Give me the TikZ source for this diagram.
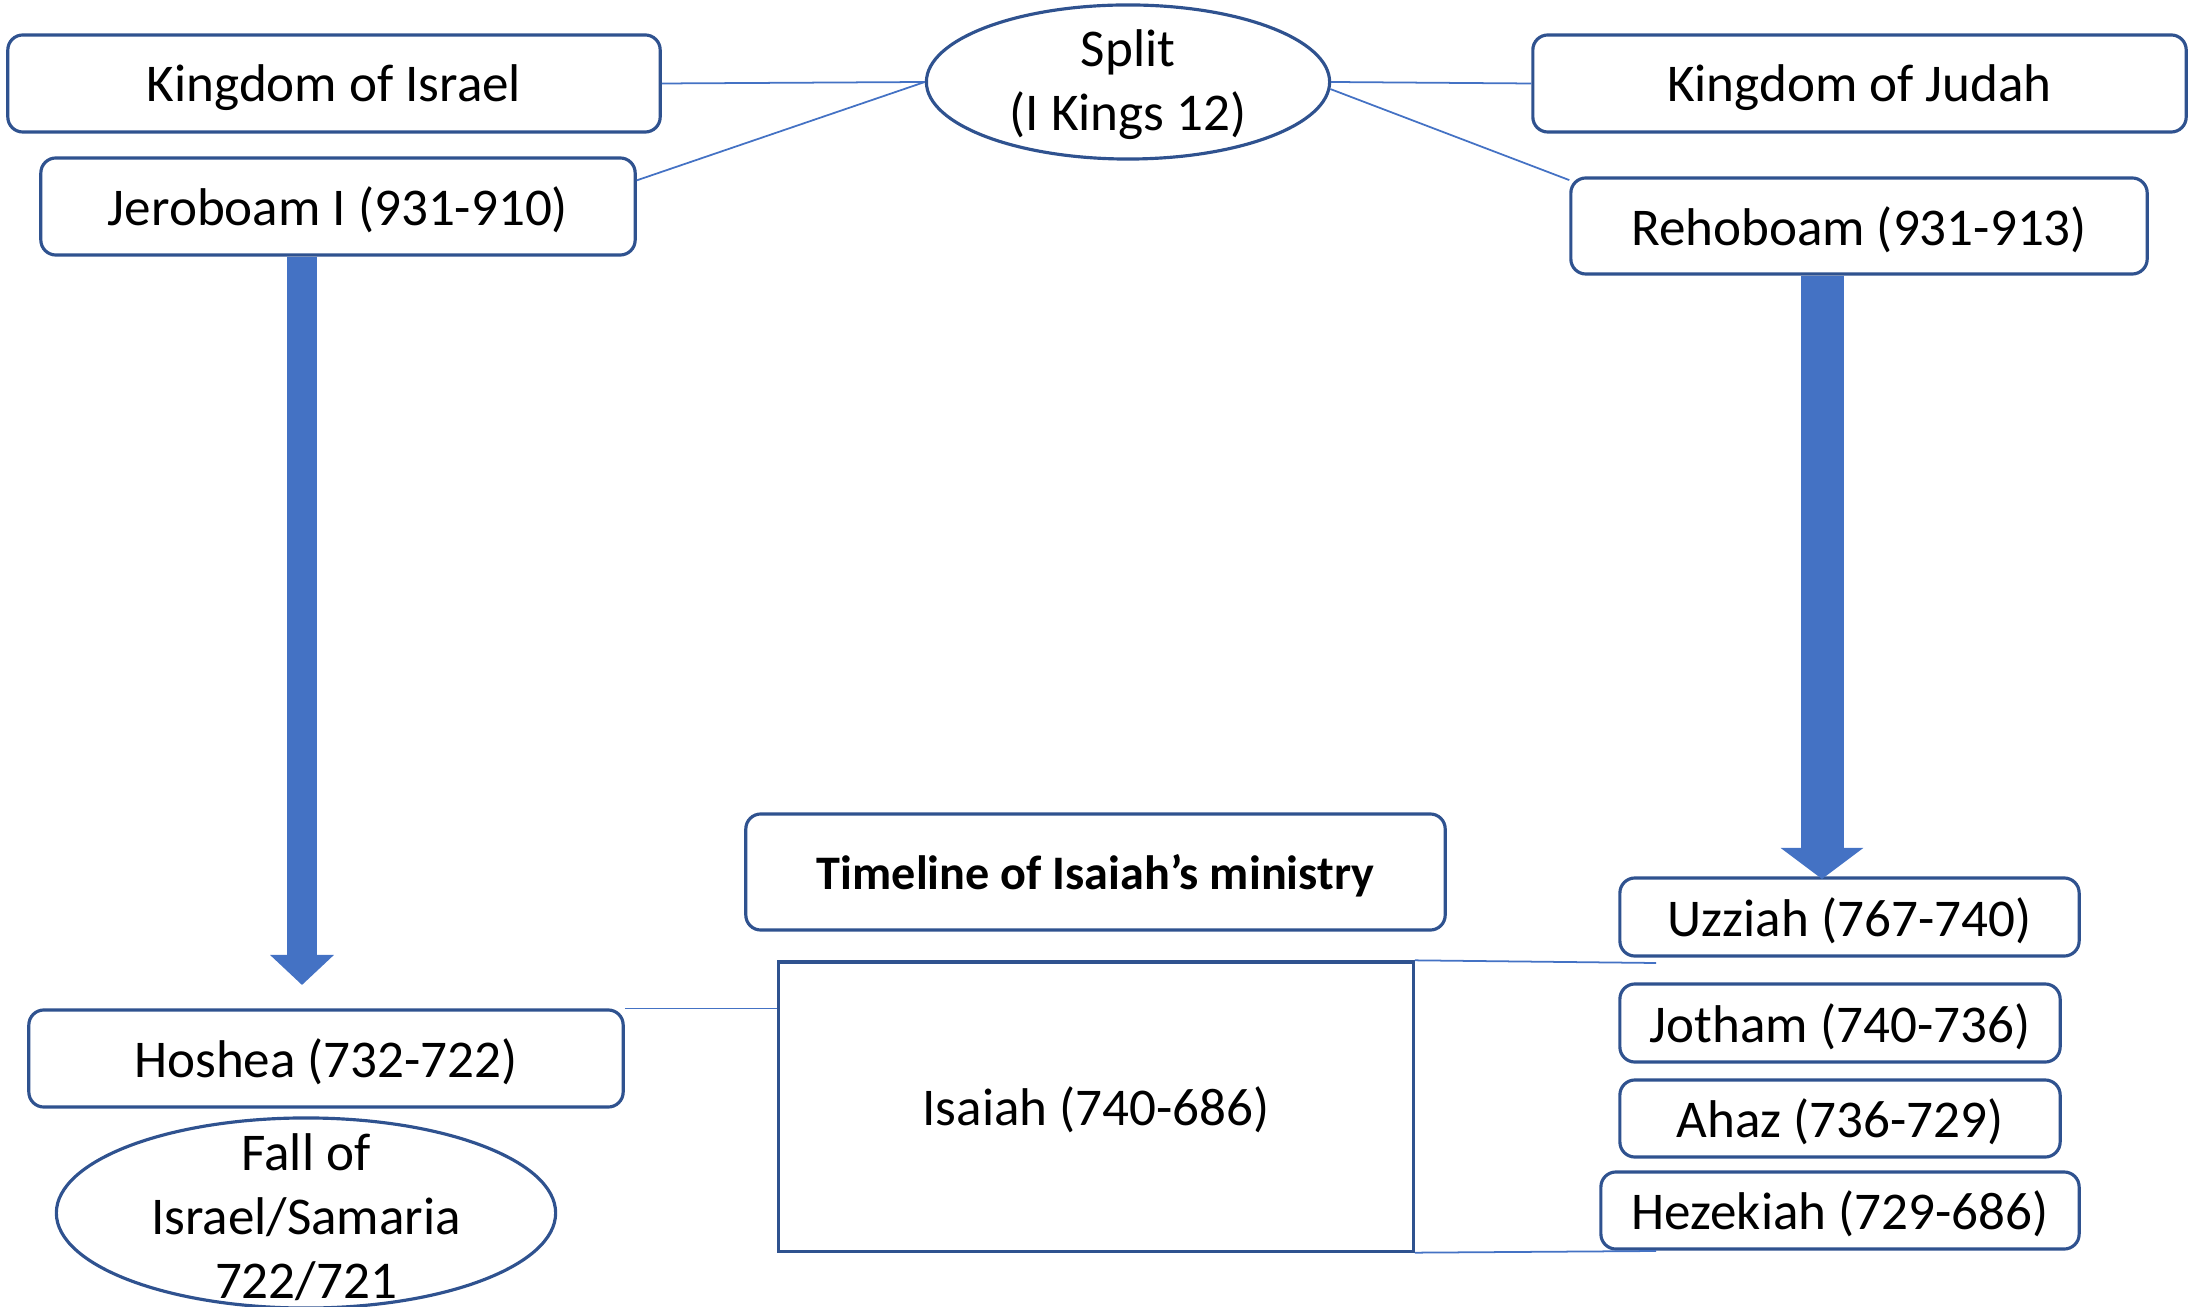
\documentclass[tikz,border=0pt]{standalone}
\usepackage{fontspec}
\setmainfont{Carlito}
\usetikzlibrary{shapes.geometric,arrows.meta}
\definecolor{boxblue}{HTML}{2F528F}
\definecolor{lineblue}{HTML}{4472C4}

\begin{document}
\begin{tikzpicture}[x=0.01cm, y=-0.01cm,
  king/.style={draw=boxblue, line width=0.9pt, rounded corners=0.15cm, fill=white, inner sep=0pt, text depth=0pt, font=\fontsize{15.1}{18}\selectfont},
  event/.style={draw=boxblue, line width=0.9pt, ellipse, inner sep=0pt},
  link/.style={draw=lineblue, line width=0.5pt},
  fat/.style={lineblue, line width=0.3cm, -{Triangle[length=0.3cm, width=0.62cm]}}]
  \useasboundingbox (0,0) rectangle (2195,1307);

  % the split
  \node[event, minimum width=4.03cm, minimum height=1.54cm] (split) at (1128,82) {};
  \node[align=center, font=\fontsize{15.1}{18.2}\selectfont] (splittext) at (1128,85) {Split\\(I Kings 12)};

  % north
  \node[king, minimum width=6.52cm, minimum height=0.97cm] (israel) at (334,83.5) {Kingdom of Israel};
  \node[king, minimum width=5.94cm, minimum height=0.97cm] (jeroboam) at (338,206.5) {Jeroboam I (931-910)};
  \node[king, minimum width=5.94cm, minimum height=0.97cm] (hoshea) at (326,1058.5) {Hoshea (732-722)};
  \node[event, minimum width=4.99cm, minimum height=1.9cm] (fall) at (306,1213) {};
  \node[align=center, font=\fontsize{15.1}{18.2}\selectfont] (falltext) at (306,1217) {Fall of\\Israel/Samaria\\722/721};

  % south
  \node[king, minimum width=6.53cm, minimum height=0.97cm] (judah) at (1859.5,83.5) {Kingdom of Judah};
  \node[king, minimum width=5.76cm, minimum height=0.96cm] (rehoboam) at (1859,226) {Rehoboam (931-913)};
  \node[king, minimum width=4.59cm, minimum height=0.78cm] (uzziah) at (1849.5,917) {Uzziah (767-740)};
  \node[king, minimum width=4.40cm, minimum height=0.78cm] (jotham) at (1840,1023) {Jotham (740-736)};
  \node[king, minimum width=4.40cm, minimum height=0.77cm] (ahaz) at (1840,1118.5) {Ahaz (736-729)};
  \node[king, minimum width=4.78cm, minimum height=0.77cm] (hezekiah) at (1840,1210.5) {Hezekiah (729-686)};

  % isaiah
  \node[king, minimum width=6.99cm, minimum height=1.16cm, font=\fontsize{13.7}{16}\selectfont\bfseries] (timeline) at (1095.5,872) {Timeline of Isaiah’s ministry};
  \node[king, rounded corners=0pt, minimum width=6.34cm, minimum height=2.89cm] (isaiah) at (1096,1106.5) {Isaiah (740-686)};

  \coordinate (israelend) at (302,985);
  \coordinate (judahend) at (1822,879);
  \coordinate (topend) at (1656,963);
  \coordinate (bottomend) at (1656,1251);

  \draw[link] (israel.east) -- (split.west);
  \draw[link] (jeroboam.5) -- (split.west);
  \draw[link] (split.east) -- (judah.west);
  \draw[link] (split.-2) -- (rehoboam.171);
  \draw[link] (hoshea.north east) -- (hoshea.north east -| isaiah.west);
  \draw[link] (isaiah.north east) -- (topend);
  \draw[link] (isaiah.south east) -- (bottomend);

  \draw[fat] (jeroboam.south -| israelend) -- (israelend);
  \draw[fat, line width=0.43cm, -{Triangle[length=0.31cm, width=0.81cm]}] (rehoboam.south -| judahend) -- (judahend);
\end{tikzpicture}
\end{document}
